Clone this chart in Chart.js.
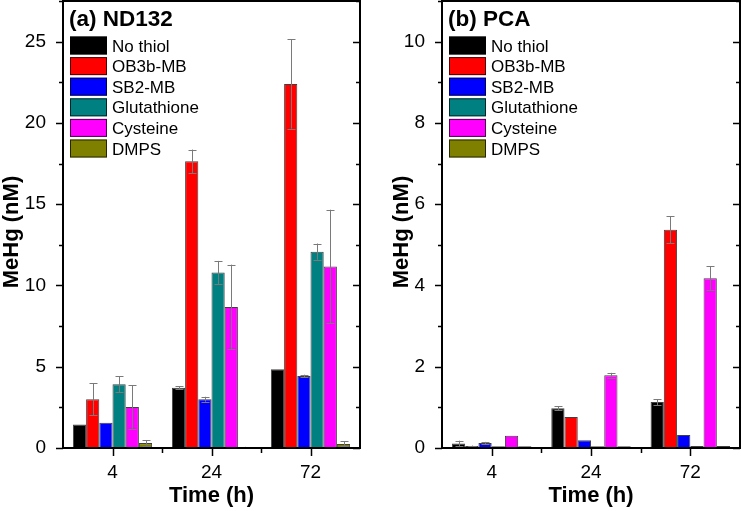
<!DOCTYPE html>
<html>
<head>
<meta charset="utf-8">
<script src="https://cdn.jsdelivr.net/npm/chart.js@4.4.1/dist/chart.umd.min.js"></script>
<style>
  html,body{margin:0;padding:0;background:#fff;}
  #wrap{position:relative;width:742px;height:511px;overflow:hidden;}
  .panel{position:absolute;top:0;width:371px;height:511px;}
  #pA{left:0;}
  #pB{left:371px;}
</style>
</head>
<body>
<div id="wrap">
  <div class="panel" id="pA"><canvas id="chartA"></canvas></div>
  <div class="panel" id="pB"><canvas id="chartB"></canvas></div>
</div>
<script>
// categories and series
const times = ["4", "24", "72"];
const seriesNames = ["No thiol", "OB3b-MB", "SB2-MB", "Glutathione", "Cysteine", "DMPS"];
const seriesColors = ["#000000", "#ff0000", "#0000ff", "#008080", "#ff00ff", "#808000"];

// (a) ND132 — MeHg (nM)
const noThiolA = [1.45, 3.70, 4.85];
const ob3bA    = [3.00, 17.64, 22.40];
const sb2A     = [1.55, 3.00, 4.43];
const glutA    = [3.92, 10.79, 12.08];
const cysA     = [2.52, 8.68, 11.16];
const dmpsA    = [0.30, 0.05, 0.25];
const noThiolErrA = [0, 0.10, 0];
const ob3bErrA    = [0.98, 0.72, 2.75];
const sb2ErrA     = [0, 0.15, 0.08];
const glutErrA    = [0.50, 0.72, 0.50];
const cysErrA     = [1.33, 2.60, 3.50];
const dmpsErrA    = [0.17, 0.02, 0.15];
const yTicksA = [0, 5, 10, 15, 20, 25];

// (b) PCA — MeHg (nM)
const noThiolB = [0.11, 0.98, 1.13];
const ob3bB    = [0.05, 0.76, 5.37];
const sb2B     = [0.12, 0.19, 0.32];
const glutB    = [0.04, 0.04, 0.05];
const cysB     = [0.30, 1.79, 4.18];
const dmpsB    = [0.04, 0.04, 0.05];
const noThiolErrB = [0.07, 0.05, 0.07];
const ob3bErrB    = [0.01, 0, 0.33];
const sb2ErrB     = [0.03, 0, 0];
const glutErrB    = [0, 0, 0];
const cysErrB     = [0, 0.06, 0.29];
const dmpsErrB    = [0, 0, 0];
const yTicksB = [0, 2, 4, 6, 8, 10];

const FONT = "'Liberation Sans', Arial, sans-serif";

function makeDatasets(vals, errs){
  return vals.map((v,i)=>({
    label: seriesNames[i],
    data: v,
    errors: errs[i],
    backgroundColor: seriesColors[i],
    borderColor: "rgba(0,0,0,0.75)",
    borderWidth: 1,
    borderSkipped: false,
    categoryPercentage: 0.8,
    barPercentage: 1.0
  }));
}

// error bars, frame, ticks, legend and titles
const decor = {
  id: "decor",
  afterDatasetsDraw(chart){
    const ctx = chart.ctx;
    ctx.save();
    ctx.strokeStyle = "#7a7a7a";
    ctx.lineWidth = 1;
    chart.data.datasets.forEach((ds, di)=>{
      const meta = chart.getDatasetMeta(di);
      meta.data.forEach((bar, i)=>{
        const e = ds.errors[i];
        if(!e) return;
        const y = chart.scales.y;
        const yTop = y.getPixelForValue(ds.data[i] + e);
        const yBot = y.getPixelForValue(Math.max(0, ds.data[i] - e));
        const x = Math.round(bar.x) + 0.5;
        ctx.beginPath();
        ctx.moveTo(x, yTop); ctx.lineTo(x, yBot);
        ctx.moveTo(x - 4, Math.round(yTop)+0.5); ctx.lineTo(x + 4, Math.round(yTop)+0.5);
        ctx.moveTo(x - 4, Math.round(yBot)+0.5); ctx.lineTo(x + 4, Math.round(yBot)+0.5);
        ctx.stroke();
      });
    });
    ctx.restore();
  },
  afterDraw(chart, args, opts){
    const ctx = chart.ctx;
    const a = chart.chartArea;
    const ys = chart.scales.y, xs = chart.scales.x;
    ctx.save();
    ctx.strokeStyle = "#000";
    ctx.lineWidth = 2;
    ctx.strokeRect(a.left, a.top, a.right - a.left, a.bottom - a.top);
    // y ticks: outward on left, inward on right
    ctx.lineWidth = 1.5;
    const step = opts.yTicks[1] - opts.yTicks[0];
    for(let v = 0; v <= ys.max; v += step/2){
      const py = Math.round(ys.getPixelForValue(v)) + 0.5;
      const major = Math.abs(v/step - Math.round(v/step)) < 1e-6;
      const len = major ? 7 : 4;
      ctx.beginPath();
      ctx.moveTo(a.left - len, py); ctx.lineTo(a.left, py);
      ctx.moveTo(a.right - len, py); ctx.lineTo(a.right, py);
      ctx.stroke();
    }
    // x ticks: major at categories, minor at boundaries
    const n = times.length;
    const w = (a.right - a.left) / n;
    for(let i = 0; i < n; i++){
      const cx = Math.round(xs.getPixelForValue(i)) + 0.5;
      ctx.beginPath(); ctx.moveTo(cx, a.bottom); ctx.lineTo(cx, a.bottom + 8); ctx.stroke();
      if(i > 0){
        const bx = Math.round(a.left + w*i) + 0.5;
        ctx.beginPath(); ctx.moveTo(bx, a.bottom); ctx.lineTo(bx, a.bottom + 5); ctx.stroke();
      }
    }
    // panel title
    ctx.fillStyle = "#000";
    ctx.font = "bold 22.5px " + FONT;
    ctx.textAlign = "left";
    ctx.textBaseline = "alphabetic";
    ctx.fillText(opts.title, a.left + 6, 26);
    // legend
    ctx.font = "17px " + FONT;
    seriesNames.forEach((nm, i)=>{
      const top = 36.5 + i*20.6;
      ctx.fillStyle = seriesColors[i];
      ctx.fillRect(a.left + 7, top, 37, 18);
      ctx.strokeStyle = "rgba(0,0,0,0.7)";
      ctx.lineWidth = 1;
      ctx.strokeRect(a.left + 7.5, top + 0.5, 36, 17);
      ctx.fillStyle = "#000";
      ctx.fillText(nm, a.left + 49, top + 15);
    });
    // axis titles
    ctx.font = "bold 22px " + FONT;
    ctx.textAlign = "center";
    ctx.fillText("Time (h)", (a.left + a.right)/2, 502);
    ctx.translate(opts.yTitleX, opts.yTitleY);
    ctx.rotate(-Math.PI/2);
    ctx.fillText("MeHg (nM)", 0, 0);
    ctx.restore();
  }
};

function buildChart(id, datasets, yMax, yTicks, title, padLeftAxis, padRight, yTitleX){
  return new Chart(document.getElementById(id), {
    type: "bar",
    data: { labels: times, datasets: datasets },
    options: {
      responsive: true,
      maintainAspectRatio: false,
      animation: false,
      devicePixelRatio: 1,
      layout: { padding: { top: 1, right: padRight, left: 0, bottom: 0 } },
      plugins: {
        legend: { display: false },
        tooltip: { enabled: false },
        decor: { title: title, yTicks: yTicks, yTitleX: yTitleX, yTitleY: 232 }
      },
      scales: {
        x: {
          grid: { display: false, drawTicks: false },
          border: { display: false },
          ticks: { color: "#000", font: { family: FONT, size: 19 }, padding: 13 },
          afterFit(s){ s.height = 63; s.paddingLeft = 0; s.paddingRight = 0; }
        },
        y: {
          min: 0, max: yMax,
          grid: { display: false, drawTicks: false },
          border: { display: false },
          ticks: { color: "#000", font: { family: FONT, size: 19 }, padding: 17 },
          afterBuildTicks(s){ s.ticks = yTicks.map(v => ({ value: v })); },
          afterFit(s){ s.width = padLeftAxis; s.paddingTop = 0; s.paddingBottom = 0; }
        }
      }
    },
    plugins: [decor]
  });
}

const dsA = makeDatasets(
  [noThiolA, ob3bA, sb2A, glutA, cysA, dmpsA],
  [noThiolErrA, ob3bErrA, sb2ErrA, glutErrA, cysErrA, dmpsErrA]
);
const dsB = makeDatasets(
  [noThiolB, ob3bB, sb2B, glutB, cysB, dmpsB],
  [noThiolErrB, ob3bErrB, sb2ErrB, glutErrB, cysErrB, dmpsErrB]
);

buildChart("chartA", dsA, 27.5, yTicksA, "(a) ND132", 63, 11, 18);
buildChart("chartB", dsB, 11, yTicksB, "(b) PCA", 71, 2, 37);
</script>
</body>
</html>
